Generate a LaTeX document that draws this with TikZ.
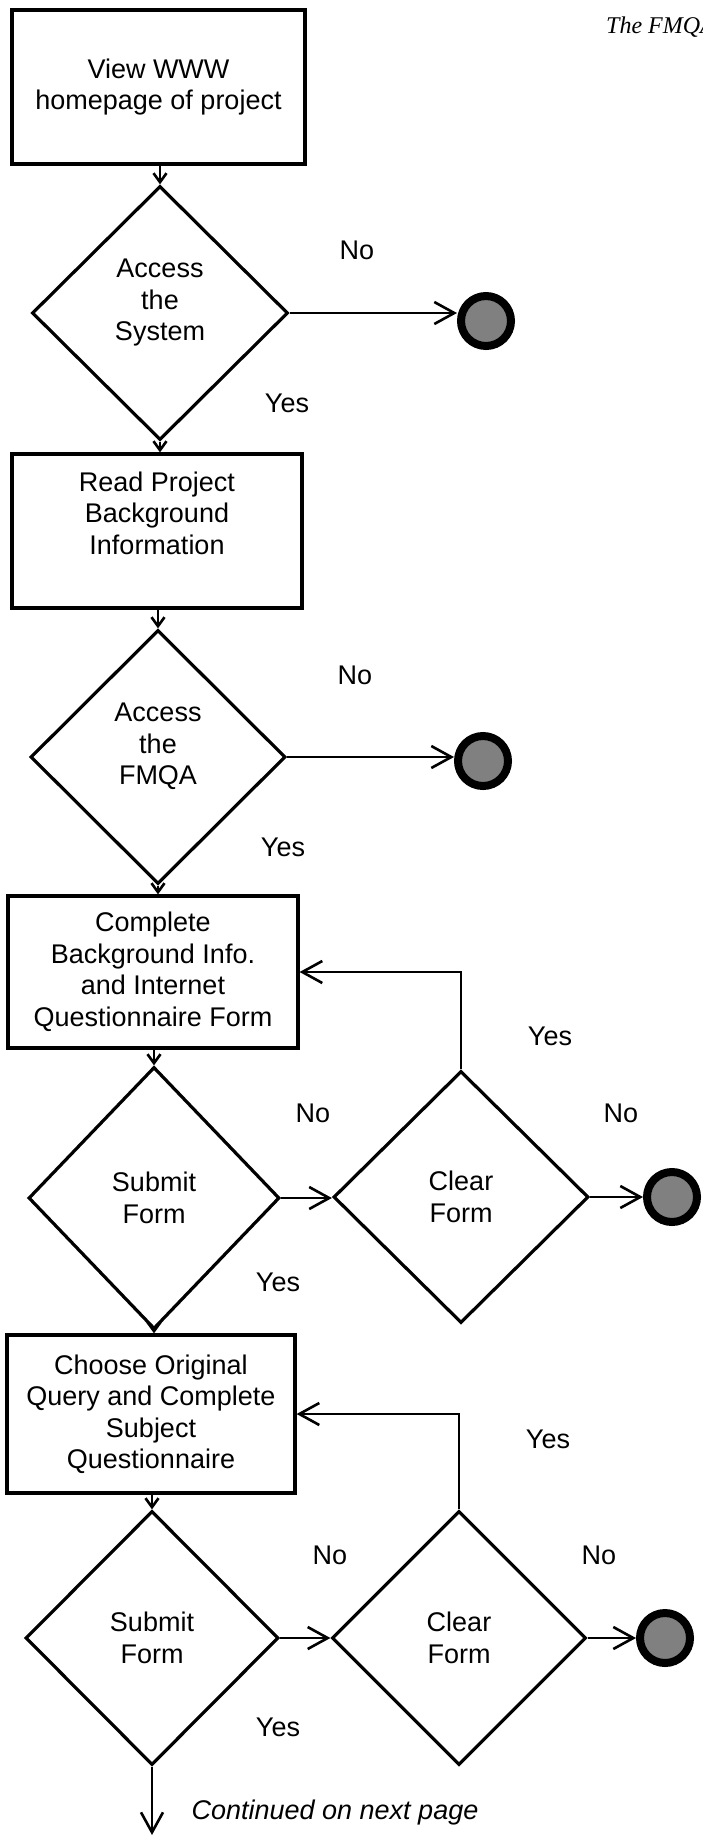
\documentclass[tikz,border=0pt]{standalone}
\usepackage{fontspec}
\setmainfont{Liberation Sans}
\newfontfamily\headserif{Liberation Serif}
\usetikzlibrary{shapes.geometric,arrows.meta}
\begin{document}
\begin{tikzpicture}[x=1pt,y=-1pt,
  every node/.style={font=\fontsize{27}{31.5}\selectfont},
  procbox/.style={draw, rectangle, line width=3.2pt, align=center, inner sep=0pt},
  decision/.style={draw, diamond, line width=3.2pt, align=center, inner sep=0pt},
  stopdot/.style={circle, draw=black, fill=black!50, line width=8pt,
                  minimum size=50pt, inner sep=0pt},
  tag/.style={inner sep=0pt, text height=19pt, text depth=0pt},
  flow/.style={line width=2.6pt, -{Straight Barb[length=20pt,width=22pt]}},
  flowshort/.style={line width=2.6pt, -{Straight Barb[length=9pt,width=13pt]}},
]
\useasboundingbox (0,0) rectangle (702,1837);
\fill[white] (0,0) rectangle (702,1837);

% process boxes and decisions
\node[procbox, minimum width=293pt, minimum height=154pt] (b1) at (158.5,87)
  {View WWW\\homepage of project};
\node[decision, minimum width=256pt, minimum height=254pt, text depth=26pt] (d1) at (160,313)
  {Access\\the\\System};
\node[procbox, minimum width=290pt, minimum height=154pt, text depth=36pt] (b2) at (157,531)
  {Read Project\\Background\\Information};
\node[decision, minimum width=255pt, minimum height=254pt, text depth=26pt] (d2) at (158,757)
  {Access\\the\\FMQA};
\node[procbox, minimum width=290pt, minimum height=152pt] (b3) at (153,972)
  {Complete\\Background Info.\\and Internet\\Questionnaire Form};
\node[decision, minimum width=251pt, minimum height=262pt] (d3) at (154,1198)
  {Submit\\Form};
\node[decision, minimum width=255pt, minimum height=252pt] (c1) at (461,1197)
  {Clear\\Form};
\node[procbox, minimum width=288pt, minimum height=158pt] (b4) at (151,1414)
  {Choose Original\\Query and Complete\\Subject\\Questionnaire};
\node[decision, minimum width=253pt, minimum height=254pt] (d4) at (152,1638)
  {Submit\\Form};
\node[decision, minimum width=254pt, minimum height=254pt] (c2) at (459,1638)
  {Clear\\Form};

% terminal dots
\node[stopdot] (e1) at (486,321) {};
\node[stopdot] (e2) at (483,761) {};
\node[stopdot] (e3) at (672,1197) {};
\node[stopdot] (e4) at (665,1638) {};

\coordinate (cont) at (152,1835);

% connectors
\draw[flowshort] (d1.north |- b1.south) -- (d1.north);
\draw[flow] (d1.east) -- (d1.east -| e1.west);
\draw[flowshort] (d1.south) -- (d1.south |- b2.north);
\draw[flowshort] (d2.north |- b2.south) -- (d2.north);
\draw[flow] (d2.east) -- (d2.east -| e2.west);
\draw[flowshort] (d2.south) -- (d2.south |- b3.north);
\draw[flowshort] (d3.north |- b3.south) -- (d3.north);
\draw[flow] (d3.east) -- (d3.east -| c1.west);
\draw[flow] (c1.east) -- (c1.east -| e3.west);
\draw[flow] (c1.north) |- (b3.east);
\draw[flowshort] (d3.south) -- (d3.south |- b4.north);
\draw[flowshort] (d4.north |- b4.south) -- (d4.north);
\draw[flow] (d4.east) -- (d4.east -| c2.west);
\draw[flow] (c2.east) -- (c2.east -| e4.west);
\draw[flow] (c2.north) |- (b4.east);
\draw[flow] (d4.south) -- (d4.south |- cont);

% branch labels
\node[tag] (n1) at (357,250) {No};
\node[tag] (y1) at (287,403) {Yes};
\node[tag] (n2) at (355,675) {No};
\node[tag] (y2) at (283,847) {Yes};
\node[tag] (n3) at (313,1113) {No};
\node[tag] (y3) at (550,1036) {Yes};
\node[tag] (n4) at (621,1113) {No};
\node[tag] (y4) at (278,1282) {Yes};
\node[tag] (n5) at (330,1555) {No};
\node[tag] (y5) at (548,1439) {Yes};
\node[tag] (n6) at (599,1555) {No};
\node[tag] (y6) at (278,1727) {Yes};
\node[tag, font=\fontsize{27}{31.5}\selectfont\itshape] (cnt) at (335,1810)
  {Continued on next page};

% running header
\node[anchor=base west, inner sep=0pt, font=\headserif\itshape\fontsize{24}{28}\selectfont]
  (hdr) at (606,33) {The FMQA};
\end{tikzpicture}
\end{document}
